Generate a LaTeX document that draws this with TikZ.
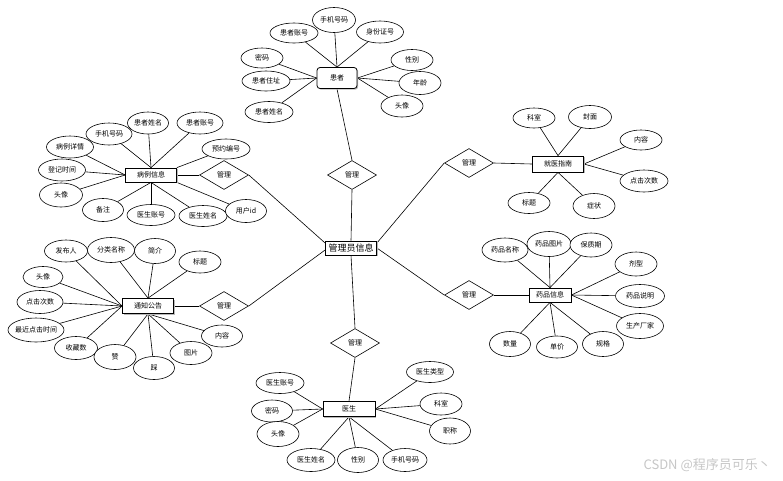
\documentclass[tikz,border=0pt]{standalone}
\usepackage{fontspec}
\newfontfamily\cjk{Noto Sans CJK SC}
\usetikzlibrary{shapes.geometric,shadows,backgrounds}
\begin{document}
\begin{tikzpicture}[x=1pt,y=-1pt,
  attr/.style={ellipse,draw,fill=white,line width=0.6pt,minimum width=42pt,minimum height=23pt,inner sep=0pt,font=\cjk\fontsize{7}{8}\selectfont},
  attrw/.style={attr,minimum width=47pt,minimum height=22pt},
  ent/.style={rectangle,draw,fill=white,line width=0.8pt,minimum width=51pt,minimum height=15pt,inner sep=1pt,font=\cjk\fontsize{7}{8}\selectfont,drop shadow={shadow xshift=1.2pt,shadow yshift=-1.2pt,fill=gray!55,opacity=1}},
  rel/.style={diamond,draw,fill=white,line width=0.6pt,minimum width=49pt,minimum height=29pt,inner sep=0pt,font=\cjk\fontsize{7}{8}\selectfont},
  conn/.style={line width=0.6pt}]
\useasboundingbox (0,0) rectangle (783,480);

% central entity
\node[ent,minimum height=14pt,font=\cjk\fontsize{9}{10}\selectfont] (admin) at (351,248) {管理员信息};

% relationships
\node[rel] (d0) at (352,175) {管理};
\node[rel] (d1) at (224,175) {管理};
\node[rel] (d2) at (224,306) {管理};
\node[rel] (d3) at (469,163) {管理};
\node[rel] (d4) at (469,295) {管理};
\node[rel] (d5) at (355,343) {管理};

% patient
\node[ent,rounded corners=3pt,minimum width=40pt,minimum height=21pt] (pat) at (337,78) {患者};
\node[attrw,minimum width=48pt,minimum height=20pt] (p1) at (294,33) {患者账号};
\node[attr,minimum width=43pt,minimum height=25pt] (p2) at (334,20) {手机号码};
\node[attrw] (p3) at (380,32) {身份证号};
\node[attr,minimum height=20pt] (p4) at (262,58) {密码};
\node[attrw,minimum width=48pt,minimum height=20pt] (p5) at (266,81) {患者住址};
\node[attrw,minimum width=48pt,minimum height=21pt] (p6) at (269,112) {患者姓名};
\node[attr,minimum height=21pt] (p7) at (412,60) {性别};
\node[attr] (p8) at (420,83) {年龄};
\node[attr,minimum height=22pt] (p9) at (402,106) {头像};

% case info
\node[ent,minimum height=14pt] (case) at (151,175) {病例信息};
\node[attrw] (c1) at (70,147) {病例详情};
\node[attrw,minimum width=46pt] (c2) at (109,134) {手机号码};
\node[attr,minimum width=41pt,minimum height=22pt] (c3) at (148,123) {患者姓名};
\node[attrw,minimum width=46pt] (c4) at (200,123) {患者账号};
\node[attrw,minimum width=48pt,minimum height=20pt] (c5) at (226,149) {预约编号};
\node[attrw] (c6) at (62,170) {登记时间};
\node[attr,minimum width=43pt,minimum height=24pt] (c7) at (61,195) {头像};
\node[attr,minimum width=41pt] (c8) at (103,210) {备注};
\node[attrw,minimum width=48pt,minimum height=21pt] (c9) at (151,215) {医生账号};
\node[attrw,minimum width=48pt,minimum height=21pt] (c10) at (203,216) {医生姓名};
\node[attr,minimum width=41pt] (c11) at (246,211) {用户id};

% notice
\node[ent] (notice) at (148,306) {通知公告};
\node[attr,minimum width=43pt,minimum height=22pt] (n1) at (66,251) {发布人};
\node[attrw,minimum height=25pt] (n2) at (111,250) {分类名称};
\node[attr,minimum width=41pt,minimum height=25pt] (n3) at (155,251) {简介};
\node[attr,minimum height=22pt] (n4) at (200,262) {标题};
\node[attr,minimum width=40pt,minimum height=21pt] (n5) at (43,277) {头像};
\node[attrw,minimum width=46pt,minimum height=23pt] (n6) at (40,302) {点击次数};
\node[attr,minimum width=56pt,minimum height=24pt,inner xsep=-2pt] (n7) at (36,330) {最近点击时间};
\node[attr,minimum width=43pt] (n8) at (76,348) {收藏数};
\node[attr,minimum height=25pt] (n9) at (115,357) {赞};
\node[attr,minimum width=41pt] (n10) at (154,368) {踩};
\node[attr] (n11) at (191,353) {图片};
\node[attr,minimum width=41pt,minimum height=22pt] (n12) at (222,336) {内容};

% guide
\node[ent,minimum height=16pt] (guide) at (558,164) {就医指南};
\node[attr,minimum height=20pt] (g1) at (534,118) {科室};
\node[attr,minimum width=43pt] (g2) at (590,117) {封面};
\node[attr,minimum height=20pt] (g3) at (641,140) {内容};
\node[attrw,minimum width=48pt] (g4) at (644,181) {点击次数};
\node[attr,minimum height=21pt] (g5) at (529,203) {标题};
\node[attr,minimum height=25pt] (g6) at (594,206) {症状};

% drug
\node[ent,minimum width=42pt,minimum height=14pt] (drug) at (550,295) {药品信息};
\node[attrw,minimum width=46pt,minimum height=24pt] (m1) at (505,250) {药品名称};
\node[attr,minimum width=44pt,minimum height=25pt] (m2) at (549,244) {药品图片};
\node[attr,minimum height=24pt] (m3) at (591,245) {保质期};
\node[attr,minimum height=24pt] (m4) at (636,264) {剂型};
\node[attrw,minimum width=49pt,minimum height=23pt] (m5) at (640,296) {药品说明};
\node[attrw,minimum height=25pt] (m6) at (640,326) {生产厂家};
\node[attr,minimum width=41pt,minimum height=25pt] (m7) at (510,344) {数量};
\node[attr,minimum width=41pt,minimum height=22pt] (m8) at (557,347) {单价};
\node[attr,minimum width=41pt,minimum height=25pt] (m9) at (603,344) {规格};

% doctor
\node[ent,minimum width=52pt] (doc) at (349,409) {医生};
\node[attrw,minimum height=21pt] (r1) at (430,372) {医生类型};
\node[attrw,minimum width=48pt,minimum height=21pt] (r2) at (280,383) {医生账号};
\node[attr,minimum height=22pt] (r3) at (441,404) {科室};
\node[attr,minimum width=41pt,minimum height=22pt] (r4) at (272,411) {密码};
\node[attr,minimum width=41pt,minimum height=26pt] (r5) at (450,431) {职称};
\node[attr,minimum height=25pt] (r6) at (278,434) {头像};
\node[attrw,minimum width=48pt,minimum height=23pt] (r7) at (311,460) {医生姓名};
\node[attr,minimum width=41pt,minimum height=25pt] (r8) at (358,460) {性别};
\node[attr,minimum width=44pt,minimum height=23pt] (r9) at (405,460) {手机号码};

% watermark
\node[anchor=east,inner sep=0pt,text=gray!45,font=\cjk\fontsize{13}{14}\selectfont] (wm) at (771,465) {CSDN @程序员可乐丶};

\begin{pgfonlayer}{background}
  % patient
  \foreach \a in {p1,p2,p3} \draw[conn] (\a) -- (pat.north);
  \foreach \a in {p4,p5,p6} \draw[conn] (\a) -- (pat.west);
  \foreach \a in {p7,p8,p9} \draw[conn] (\a) -- (pat.east);
  % case
  \foreach \a in {c1,c6,c7} \draw[conn] (\a) -- (case.west);
  \foreach \a in {c2,c3,c4} \draw[conn] (\a) -- (case.north);
  \draw[conn] (c5) -- (case.north east);
  \foreach \a in {c8,c9,c10} \draw[conn] (\a) -- (case.south);
  \draw[conn] (c11) -- (case.south east);
  % notice
  \foreach \a in {n1,n5,n6,n7,n8} \draw[conn] (\a) -- (notice.west);
  \foreach \a in {n2,n3,n4} \draw[conn] (\a) -- (notice.north);
  \foreach \a in {n9,n10,n11,n12} \draw[conn] (\a) -- (notice.south);
  % guide
  \foreach \a in {g1,g2} \draw[conn] (\a) -- (guide.north);
  \foreach \a in {g3,g4} \draw[conn] (\a) -- (guide.east);
  \foreach \a in {g5,g6} \draw[conn] (\a) -- (guide.south);
  % drug
  \foreach \a in {m1,m2,m3} \draw[conn] (\a) -- (drug.north);
  \foreach \a in {m4,m5,m6} \draw[conn] (\a) -- (drug.east);
  \foreach \a in {m7,m8,m9} \draw[conn] (\a) -- (drug.south);
  % doctor
  \foreach \a in {r2,r4,r6} \draw[conn] (\a) -- (doc.west);
  \foreach \a in {r1,r3,r5} \draw[conn] (\a) -- (doc.east);
  \foreach \a in {r7,r8,r9} \draw[conn] (\a) -- (doc.south);
  % relationships
  \draw[conn] (pat.south) -- (d0.north);
  \draw[conn] (d0.south) -- (admin.north);
  \draw[conn] (case.east) -- (d1.west);
  \draw[conn] (d1.east) -- ([yshift=5pt]admin.west);
  \draw[conn] (notice.east) -- (d2.west);
  \draw[conn] (d2.east) -- ([yshift=-2pt]admin.west);
  \draw[conn] (guide.west) -- (d3.east);
  \draw[conn] (d3.west) -- ([yshift=5pt]admin.east);
  \draw[conn] (drug.west) -- (d4.east);
  \draw[conn] (d4.west) -- (admin.east);
  \draw[conn] (doc.north) -- (d5.south);
  \draw[conn] (d5.north) -- (admin.south);
\end{pgfonlayer}
\end{tikzpicture}
\end{document}
